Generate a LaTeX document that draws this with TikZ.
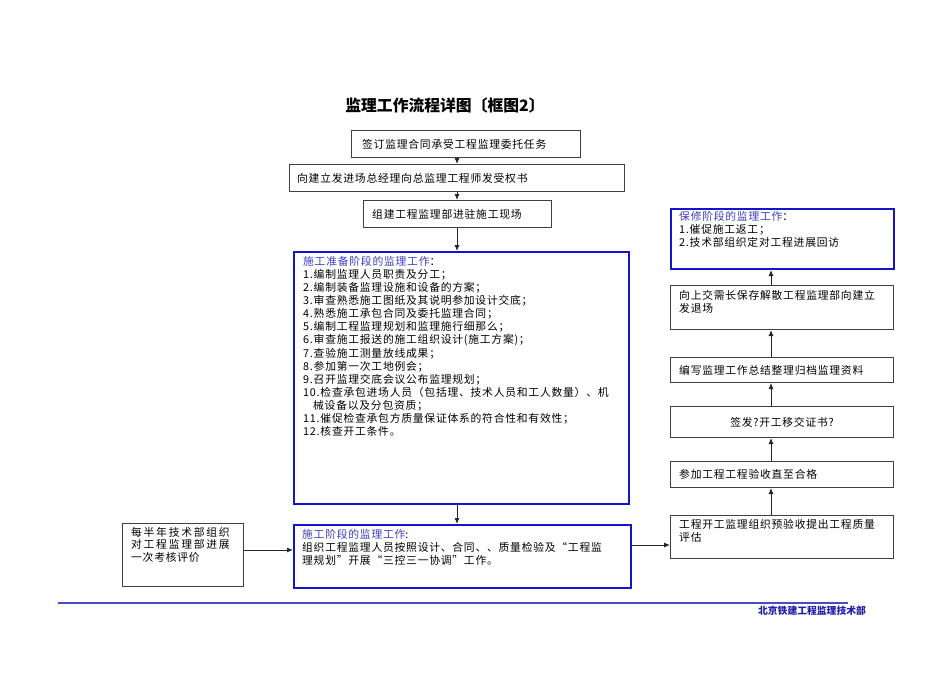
\documentclass[tikz,border=0pt]{standalone}
\usepackage{fontspec}
\setmainfont{Liberation Serif}
\newfontfamily\cjk[LetterSpace=7]{Noto Sans CJK SC}
\newfontfamily\cjkwide[LetterSpace=16]{Noto Sans CJK SC}
\newfontfamily\cjktitle{Noto Sans CJK SC}
\usetikzlibrary{arrows.meta}
\definecolor{bluebox}{RGB}{20,20,200}
\definecolor{bluetext}{RGB}{60,60,200}
\definecolor{footblue}{RGB}{30,30,170}
\tikzset{
  plainbox/.style={draw=black!75, line width=1pt, anchor=north west, inner sep=0pt},
  bluebx/.style={draw=bluebox, line width=2pt, anchor=north west, inner sep=0pt},
  txt/.style={font=\cjk\fontsize{10.8}{13.1}\selectfont, inner sep=0pt, align=left},
  conn/.style={draw=black!85, line width=0.9pt, -{Latex[length=6pt,width=5pt]}},
}
\begin{document}
\begin{tikzpicture}[x=1pt,y=-1pt]
\useasboundingbox (0,0) rectangle (950,672);
% title
\node[font=\cjktitle\bfseries\fontsize{15.8}{18}\selectfont, inner sep=0pt] (title) at (445,105) {监理工作流程详图〔框图2〕};
% top chain
\node[plainbox, minimum width=229, minimum height=27] (b1) at (351,130) {};
\node[txt, anchor=west] at ([xshift=11]b1.west) {签订监理合同承受工程监理委托任务};
\node[plainbox, minimum width=335, minimum height=27] (b2) at (289,164) {};
\node[txt, anchor=west] at ([xshift=8]b2.west) {向建立发进场总经理向总监理工程师发受权书};
\node[plainbox, minimum width=188, minimum height=27] (b3) at (363,200) {};
\node[txt, anchor=west] at ([xshift=9]b3.west) {组建工程监理部进驻施工现场};
% big prep box
\node[bluebx, minimum width=335, minimum height=252] (prep) at (293,251) {};
\node[txt, anchor=north west] at (303,256) {\textcolor{bluetext}{施工准备阶段的监理工作}：\\
1.编制监理人员职责及分工；\\
2.编制装备监理设施和设备的方案；\\
3.审查熟悉施工图纸及其说明参加设计交底；\\
4.熟悉施工承包合同及委托监理合同；\\
5.编制工程监理规划和监理施行细那么；\\
6.审查施工报送的施工组织设计(施工方案)；\\
7.查验施工测量放线成果；\\
8.参加第一次工地例会；\\
9.召开监理交底会议公布监理规划；\\
10.检查承包进场人员（包括理、技术人员和工人数量）、机\\
\hspace*{10pt}械设备以及分包资质；\\
11.催促检查承包方质量保证体系的符合性和有效性；\\
12.核查开工条件。};
% construction box
\node[bluebx, minimum width=337, minimum height=63] (cons) at (293,524) {};
\node[txt, anchor=north west] at (302,529) {\textcolor{bluetext}{施工阶段的监理工作}:\\
组织工程监理人员按照设计、合同、、质量检验及“工程监\\
理规划”开展“三控三一协调”工作。};
% left box
\node[plainbox, minimum width=121, minimum height=63] (left) at (122,523) {};
\node[txt, anchor=north west, font=\cjkwide\fontsize{10.8}{12.6}\selectfont] at (131,527) {每半年技术部组织\\对工程监理部进展\\{\cjk 一次考核评价}};
% right column
\node[plainbox, minimum width=223, minimum height=43] (r1) at (670,515) {};
\node[txt, anchor=north west] at (679,519) {工程开工监理组织预验收提出工程质量\\评估};
\node[plainbox, minimum width=223, minimum height=26] (r2) at (670,461) {};
\node[txt, anchor=west] at ([xshift=9]r2.west) {参加工程工程验收直至合格};
\node[plainbox, minimum width=223, minimum height=31] (r3) at (670,406) {};
\node[txt] at (r3.center) {签发?开工移交证书?};
\node[plainbox, minimum width=223, minimum height=25] (r4) at (670,357) {};
\node[txt, anchor=west] at ([xshift=9]r4.west) {编写监理工作总结整理归档监理资料};
\node[plainbox, minimum width=223, minimum height=44] (r5) at (670,285) {};
\node[txt, anchor=north west] at (679,290) {向上交需长保存解散工程监理部向建立\\发退场};
\node[bluebx, minimum width=223, minimum height=60] (r6) at (670,208) {};
\node[txt, anchor=north west] at (679,211) {\textcolor{bluetext}{保修阶段的监理工作}：\\
1.催促施工返工；\\
2.技术部组织定对工程进展回访};
% connectors
\draw[conn] (b1.south -| 457,0) -- (b2.north -| 457,0);
\draw[conn] (b2.south -| 457,0) -- (b3.north -| 457,0);
\draw[conn] (b3.south -| 457,0) -- (prep.north -| 457,0);
\draw[conn] (prep.south -| 457,0) -- (cons.north -| 457,0);
\draw[conn] (left.east |- 0,550) -- (cons.west |- 0,550);
\draw[conn] (cons.east |- 0,545) -- (r1.west |- 0,545);
\draw[conn] (r1.north -| 771,0) -- (r2.south -| 771,0);
\draw[conn] (r2.north -| 771,0) -- (r3.south -| 771,0);
\draw[conn] (r3.north -| 771,0) -- (r4.south -| 771,0);
\draw[conn] (r4.north -| 771,0) -- (r5.south -| 771,0);
\draw[conn] (r5.north -| 771,0) -- (r6.south -| 771,0);
% footer
\coordinate (fl) at (58,603);
\coordinate (fr) at (848,603);
\draw[draw=footblue!80, line width=1.2pt] (fl) -- (fr);
\node[font=\cjktitle\bfseries\fontsize{9.8}{12}\selectfont, text=footblue, inner sep=0pt] (foot) at (812,611) {北京铁建工程监理技术部};
\end{tikzpicture}
\end{document}
